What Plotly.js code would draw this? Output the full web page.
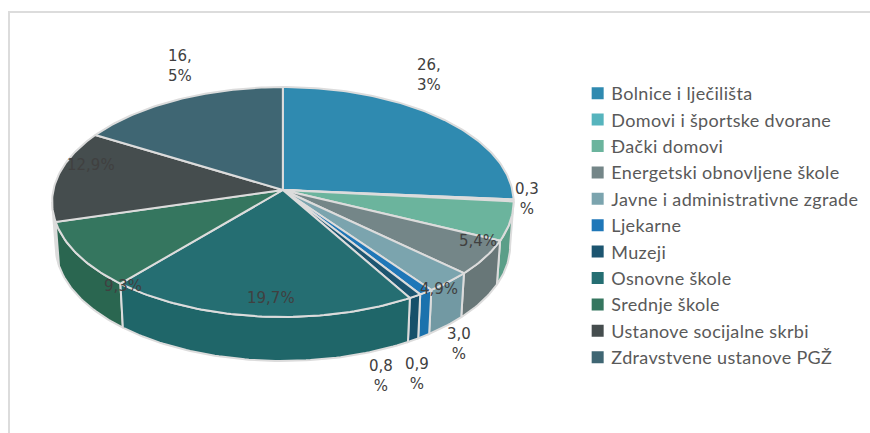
<!DOCTYPE html>
<html><head><meta charset="utf-8">
<script src="https://cdn.plot.ly/plotly-3.0.1.min.js"></script>
<style>html,body{margin:0;padding:0;background:#fff}.legendtext{letter-spacing:.33px}</style></head>
<body><div id="chart" style="width:870px;height:433px"></div>
<script>
const categories = ["Bolnice i lječilišta","Domovi i športske dvorane","Đački domovi","Energetski obnovljene škole","Javne i administrativne zgrade","Ljekarne","Muzeji","Osnovne škole","Srednje škole","Ustanove socijalne skrbi","Zdravstvene ustanove PGŽ"];
const values = [26.3,0.3,5.4,4.9,3.0,0.9,0.8,19.7,9.3,12.9,16.5];
const labelTexts = ["26,<br>3%","0,3<br>%","5,4%","4,9%","3,0<br>%","0,9<br>%","0,8<br>%","19,7%","9,3%","12,9%","16,<br>5%"];
const labelX = [430,528,479,440,460,418,382,272,123,91,180];
const labelY = [75,199,241,289,344,374,376,298,286,165,66];
const topColors = ["#2f8ab0","#56b4bd","#6bb49d","#748688","#7ba4ae","#1f77b8","#1c5570","#256e72","#35765f","#454d4e","#3f6673"];
const wallColors = ["#2a7a9c","#4da0a8","#5b9e88","#687778","#7299a3","#1b72ad","#16506a","#1f6669","#2a6650","#3c4344","#375a66"];

const CX=283.5, CY=190, R=230, B=113.7, K=0.1043, DEPTH=44, SHRINK=0.985;
const rad=d=>d*Math.PI/180;
function rim(t,dep){
  const w=1+K*Math.cos(rad(t));
  const s=dep?SHRINK:1;
  return [CX+s*R*Math.sin(rad(t))/w, CY-B*Math.cos(rad(t))/w+(dep?DEPTH:0)];
}
function arc(a,b){const n=Math.max(2,Math.ceil(Math.abs(b-a)));const o=[];for(let i=0;i<=n;i++)o.push(a+(b-a)*i/n);return o;}
const total=values.reduce((s,v)=>s+v,0);
let acc=0;
const spans=values.map(v=>{const a=acc/total*360;acc+=v;return [a,acc/total*360];});
const LINE="#dcdcdc";
const traces=[];
const VIS0=96, VIS1=264;
const order=spans.map((s,i)=>i).filter(i=>spans[i][1]>VIS0&&spans[i][0]<VIS1)
  .sort((p,q)=>Math.abs((spans[q][0]+spans[q][1])/2-180)-Math.abs((spans[p][0]+spans[p][1])/2-180));
order.forEach(i=>{
  const a=Math.max(spans[i][0],VIS0), b=Math.min(spans[i][1],VIS1);
  const ts=arc(a,b);
  const up=ts.map(t=>rim(t,false)), lo=ts.slice().reverse().map(t=>rim(t,true));
  const pts=up.concat(lo); pts.push(up[0]);
  traces.push({type:"scatter",mode:"lines",x:pts.map(p=>p[0]),y:pts.map(p=>p[1]),fill:"toself",fillcolor:wallColors[i],
    line:{color:LINE,width:2},showlegend:false,hoverinfo:"skip"});
});
spans.forEach((s,i)=>{
  const pts=[[CX,CY]].concat(arc(s[0],s[1]).map(t=>rim(t,false)));pts.push([CX,CY]);
  traces.push({type:"scatter",mode:"lines",x:pts.map(p=>p[0]),y:pts.map(p=>p[1]),fill:"toself",fillcolor:topColors[i],
    line:{color:LINE,width:2},showlegend:false,name:categories[i],text:values[i]+"%",hoverinfo:"name+text"});
});
categories.forEach((c,i)=>{
  traces.push({type:"scatter",mode:"markers",x:[null],y:[null],name:c,legendgroup:"g"+i,
    marker:{symbol:"square",size:12,color:topColors[i]},showlegend:true,hoverinfo:"skip"});
});
const annotations=labelTexts.map((t,i)=>({x:labelX[i],y:labelY[i],text:t,showarrow:false,xanchor:"center",yanchor:"middle",
  font:{family:"DejaVu Sans",size:15,color:"#404040"}}));
const layout={width:870,height:433,margin:{l:0,r:0,t:0,b:0},paper_bgcolor:"#fff",plot_bgcolor:"#fff",
  xaxis:{range:[0,870],visible:false,fixedrange:true},
  yaxis:{range:[433,0],visible:false,fixedrange:true},
  legend:{x:579/870,y:1-75/433,xanchor:"left",yanchor:"top",itemwidth:30,tracegroupgap:0,bgcolor:"rgba(0,0,0,0)",
    font:{family:"Lato",size:18,color:"#595959"}},
  annotations,
  shapes:[{type:"rect",xref:"paper",yref:"paper",x0:9/870,x1:1.01,y0:-0.01,y1:1-12/433,line:{color:"#dcdcdc",width:2},layer:"below"}]
};
Plotly.newPlot("chart",traces,layout,{displayModeBar:false,staticPlot:true}).then(()=>{
  document.querySelectorAll(".legendtext").forEach(el=>el.setAttribute("x","33.7"));
});
</script></body></html>
